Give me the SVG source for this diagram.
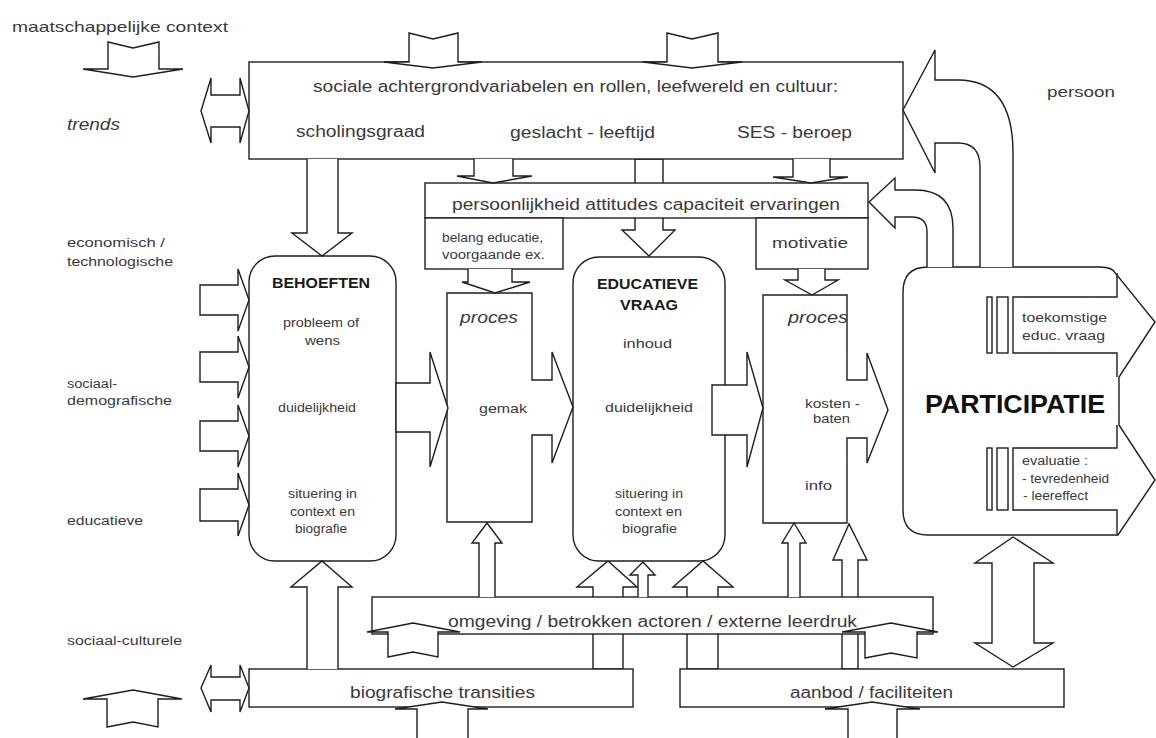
<svg xmlns="http://www.w3.org/2000/svg" width="1156" height="738" viewBox="0 0 1156 738">
<style>
.s{fill:#fff;stroke:#1e1e1e;stroke-width:1.4;stroke-linejoin:miter}
.o{fill:#fff;stroke:#1e1e1e;stroke-width:1.4}
.l{fill:none;stroke:#1e1e1e;stroke-width:1.4}
text{font-family:"Liberation Sans",Arial,sans-serif;fill:#3a3a3a}
.m{font-size:16px}
.sm{font-size:12px}
.b{font-weight:bold;font-size:14px;fill:#1a1a1a}
.i{font-style:italic;font-size:16px}
</style>
<rect width="1156" height="738" fill="#fff"/>

<g id="connectors-back">
<path class="s" d="M635,159 V230 H622 L649,256 L675,230 H663 V159 Z"/>
<path class="s" d="M593,669 V587 H577 L608,561 L637,587 H623 V669 Z"/>
<path class="s" d="M687,669 V587 H673 L703,561 L733,587 H718 V669 Z"/>
<path class="s" d="M842,669 V560 H833 L849,524 L867,560 H858 V669 Z"/>
</g>

<g id="sociale-achtergrond">
<rect class="s" x="249" y="62" width="654" height="97"/>
<text class="m" x="313" y="92" textLength="525" lengthAdjust="spacingAndGlyphs">sociale achtergrondvariabelen en rollen, leefwereld en cultuur:</text>
<text class="m" x="296" y="137" textLength="129" lengthAdjust="spacingAndGlyphs">scholingsgraad</text>
<text class="m" x="510" y="138" textLength="145" lengthAdjust="spacingAndGlyphs">geslacht - leeftijd</text>
<text class="m" x="737" y="138" textLength="115" lengthAdjust="spacingAndGlyphs">SES - beroep</text>
</g>

<g id="persoonlijkheid">
<rect class="s" x="425" y="183" width="443" height="35"/>
<text class="m" x="452" y="210" textLength="388" lengthAdjust="spacingAndGlyphs">persoonlijkheid attitudes capaciteit ervaringen</text>
</g>

<g id="belang">
<rect class="s" x="425" y="218" width="138" height="51"/>
<text class="sm" x="442" y="242" textLength="101" lengthAdjust="spacingAndGlyphs">belang educatie,</text>
<text class="sm" x="442" y="259" textLength="103" lengthAdjust="spacingAndGlyphs">voorgaande ex.</text>
</g>

<g id="motivatie">
<rect class="s" x="756" y="218" width="112" height="51"/>
<text x="772" y="248" font-size="15" textLength="76" lengthAdjust="spacingAndGlyphs">motivatie</text>
</g>

<g id="behoeften">
<rect class="s" x="249" y="256" width="147" height="305" rx="26"/>
<text class="b" x="272" y="288" textLength="98" lengthAdjust="spacingAndGlyphs">BEHOEFTEN</text>
<text class="sm" x="283" y="327" textLength="76" lengthAdjust="spacingAndGlyphs">probleem of</text>
<text class="sm" x="305" y="345" textLength="35" lengthAdjust="spacingAndGlyphs">wens</text>
<text x="278" y="412" font-size="13" textLength="78" lengthAdjust="spacingAndGlyphs">duidelijkheid</text>
<text class="sm" x="288" y="498" textLength="69" lengthAdjust="spacingAndGlyphs">situering in</text>
<text class="sm" x="290" y="516" textLength="65" lengthAdjust="spacingAndGlyphs">context en</text>
<text class="sm" x="295" y="533" textLength="52" lengthAdjust="spacingAndGlyphs">biografie</text>
</g>

<g id="educatieve-vraag">
<rect class="s" x="573" y="257" width="152" height="304" rx="26"/>
<text class="b" x="597" y="289" textLength="101" lengthAdjust="spacingAndGlyphs">EDUCATIEVE</text>
<text class="b" x="620" y="310" textLength="58" lengthAdjust="spacingAndGlyphs">VRAAG</text>
<text x="623" y="348" font-size="13" textLength="49" lengthAdjust="spacingAndGlyphs">inhoud</text>
<text x="605" y="412" font-size="13" textLength="88" lengthAdjust="spacingAndGlyphs">duidelijkheid</text>
<text class="sm" x="615" y="498" textLength="68" lengthAdjust="spacingAndGlyphs">situering in</text>
<text class="sm" x="615" y="516" textLength="67" lengthAdjust="spacingAndGlyphs">context en</text>
<text class="sm" x="622" y="533" textLength="55" lengthAdjust="spacingAndGlyphs">biografie</text>
</g>

<g id="proces-1">
<path class="s" d="M447,293 H532 V380 H552 V352 L573,407 L552,463 V435 H532 V522 H447 Z"/>
<text class="i" x="460" y="323" textLength="58" lengthAdjust="spacingAndGlyphs">proces</text>
<text x="479" y="413" font-size="13" textLength="48" lengthAdjust="spacingAndGlyphs">gemak</text>
</g>

<g id="proces-2">
<path class="s" d="M763,295 H847 V380 H867 V353 L888,410 L867,463 V438 H847 V523 H763 Z"/>
<text class="i" x="788" y="323" textLength="60" lengthAdjust="spacingAndGlyphs">proces</text>
<text class="sm" x="805" y="408" textLength="55" lengthAdjust="spacingAndGlyphs">kosten -</text>
<text class="sm" x="813" y="423" textLength="37" lengthAdjust="spacingAndGlyphs">baten</text>
<text x="805" y="490" font-size="13" textLength="27" lengthAdjust="spacingAndGlyphs">info</text>
</g>

<g id="participatie">
<path class="s" d="M928,267 H1100 Q1113,267 1116,274 L1155,322 L1119,377 V425 L1155,480 L1118,535 H928 Q903,535 903,510 V292 Q903,267 928,267 Z"/>
<path class="l" d="M1117,273 V297 H1013 V353 H1117 V377"/>
<path class="l" d="M1117,425 V448 H1013 V510 H1117 V535"/>
<rect class="l" x="987" y="297" width="5" height="56"/>
<rect class="l" x="997" y="297" width="11" height="56"/>
<rect class="l" x="987" y="448" width="5" height="62"/>
<rect class="l" x="997" y="448" width="11" height="62"/>
<text x="925" y="413" font-size="25" font-weight="bold" style="fill:#111" textLength="180" lengthAdjust="spacingAndGlyphs">PARTICIPATIE</text>
<text class="sm" x="1022" y="322" textLength="85" lengthAdjust="spacingAndGlyphs">toekomstige</text>
<text class="sm" x="1022" y="340" textLength="83" lengthAdjust="spacingAndGlyphs">educ. vraag</text>
<text class="sm" x="1022" y="465" textLength="66" lengthAdjust="spacingAndGlyphs">evaluatie :</text>
<text class="sm" x="1022" y="483" textLength="87" lengthAdjust="spacingAndGlyphs">- tevredenheid</text>
<text class="sm" x="1023" y="500" textLength="65" lengthAdjust="spacingAndGlyphs">- leereffect</text>
</g>

<g id="omgeving">
<rect class="s" x="372" y="597" width="561" height="37"/>
<text class="m" x="448" y="627" textLength="409" lengthAdjust="spacingAndGlyphs">omgeving / betrokken actoren / externe leerdruk</text>
</g>

<g id="biografische-transities">
<rect class="s" x="249" y="669" width="384" height="38"/>
<text class="m" x="350" y="698" textLength="185" lengthAdjust="spacingAndGlyphs">biografische transities</text>
</g>

<g id="aanbod">
<rect class="s" x="680" y="669" width="384" height="38"/>
<text class="m" x="790" y="698" textLength="163" lengthAdjust="spacingAndGlyphs">aanbod / faciliteiten</text>
</g>

<g id="connectors">
<path class="s" d="M409,33 L433,39 L458,33 V62 H482 L433,68 L384,62 H409 Z"/>
<path class="s" d="M667,33 L692,39 L718,33 V62 H742 L692,68 L643,62 H667 Z"/>
<path class="s" d="M108,42 L133,48 L159,42 V69 H183 L133,77 L83,69 H108 Z"/>
<path class="s" d="M201,111 L211,78 V95 H240 V78 L249,111 L240,143 V127 H211 V143 Z"/>
<path class="s" d="M201,688 L211,665 V677 H240 V665 L249,688 L240,712 V700 H211 V712 Z"/>
<path class="o" d="M307,159 V233 H292 L322,256 L352,233 H338 V159"/>
<path class="o" d="M474,159 V176 H457 L493,183 L532,176 H513 V159"/>
<path class="o" d="M793,159 V177 H773 L811,183 L848,177 H830 V159"/>
<path class="o" d="M468,269 V282 H462 L495,293 L530,282 H512 V269"/>
<path class="o" d="M798,269 V280 H785 L812,295 L838,280 H825 V269"/>
<path class="s" d="M200,285 H238 V269 L249,300 L238,331 V315 H200 Z"/>
<path class="s" d="M200,352 H238 V336 L249,367 L238,398 V382 H200 Z"/>
<path class="s" d="M200,421 H238 V405 L249,436 L238,467 V451 H200 Z"/>
<path class="s" d="M200,489 H238 V473 L249,505 L238,536 V521 H200 Z"/>
<path class="s" d="M396,383 H430 V352 L448,408 L430,467 V432 H396 Z"/>
<path class="s" d="M712,385 H747 V352 L763,408 L747,467 V435 H712 Z"/>
<path class="o" d="M980,267 V167 Q980,143 958,143 H935 V173 L903,110 L935,50 V80 H958 Q1013,80 1013,153 V267"/>
<path class="o" d="M927,267 V232 Q927,217 912,217 H895 V228 L869,202 L895,178 V190 H915 Q953,190 953,228 V267"/>
<path class="o" d="M479,597 V543 H472 L487,523 L502,543 H495 V597"/>
<path class="o" d="M638,597 V575 H630 L643,562 L655,575 H648 V597"/>
<path class="o" d="M788,597 V543 H782 L794,523 L806,543 H800 V597"/>
<path class="s" d="M388,657 L413,652 L438,657 V632 H460 L413,623 L367,632 H388 Z"/>
<path class="s" d="M865,658 L891,653 L917,658 V632 H938 L891,623 L842,632 H865 Z"/>
<path class="o" d="M417,740 V709 H395 L442,702 L488,709 H468 V740"/>
<path class="o" d="M848,740 V709 H825 L872,702 L920,709 H897 V740"/>
<path class="s" d="M107,727 L133,722 L158,727 V699 H182 L133,690 L83,699 H107 Z"/>
<path class="o" d="M307,669 V587 H291 L322,561 L352,587 H338 V669"/>
<path class="s" d="M992,563 H975 L1013,537 L1053,563 H1034 V643 H1053 L1013,667 L975,643 H992 Z"/>
</g>

<g id="labels">
<text x="12" y="32" font-size="15" textLength="216" lengthAdjust="spacingAndGlyphs">maatschappelijke context</text>
<text class="i" x="67" y="130" textLength="53" lengthAdjust="spacingAndGlyphs">trends</text>
<text x="1047" y="97" font-size="15" textLength="68" lengthAdjust="spacingAndGlyphs">persoon</text>
<text class="sm" x="67" y="247" textLength="98" lengthAdjust="spacingAndGlyphs">economisch /</text>
<text class="sm" x="67" y="266" textLength="106" lengthAdjust="spacingAndGlyphs">technologische</text>
<text class="sm" x="67" y="388" textLength="50" lengthAdjust="spacingAndGlyphs">sociaal-</text>
<text class="sm" x="67" y="405" textLength="105" lengthAdjust="spacingAndGlyphs">demografische</text>
<text class="sm" x="67" y="525" textLength="76" lengthAdjust="spacingAndGlyphs">educatieve</text>
<text class="sm" x="67" y="645" textLength="115" lengthAdjust="spacingAndGlyphs">sociaal-culturele</text>
</g>
</svg>
